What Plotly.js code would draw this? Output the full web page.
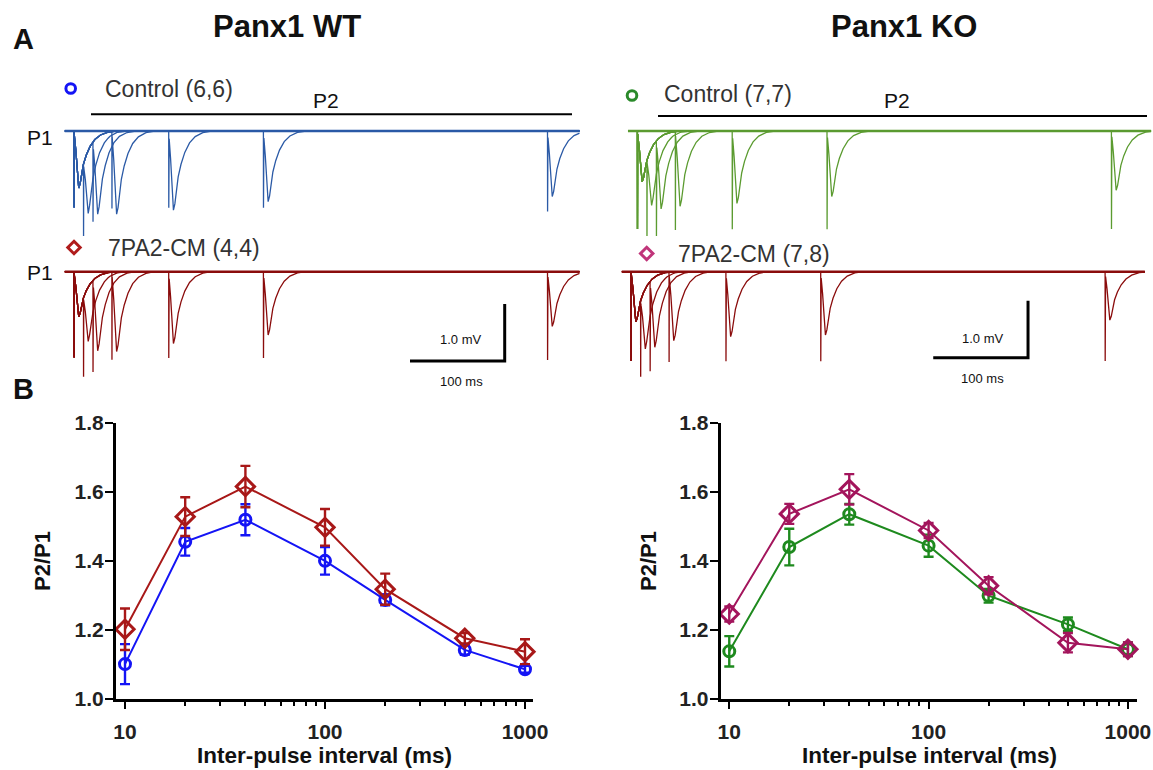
<!DOCTYPE html>
<html><head><meta charset="utf-8">
<script src="https://cdn.plot.ly/plotly-3.0.1.min.js"></script>
<style>html,body{margin:0;padding:0;background:#fff;overflow:hidden}#chart{width:1153px;height:770px}</style>
</head><body><div id="chart"></div>
<script>
// ===== Panel B: paired-pulse ratio data (mean, SEM) =====
const isiMs = [10, 20, 40, 100, 200, 500, 1000];
const wtControl    = [1.101, 1.455, 1.519, 1.400, 1.287, 1.142, 1.086];
const wtControlErr = [0.058, 0.040, 0.045, 0.040, 0.016, 0.014, 0.010];
const wtCM         = [1.202, 1.528, 1.615, 1.497, 1.318, 1.176, 1.137];
const wtCMErr      = [0.060, 0.056, 0.060, 0.053, 0.045, 0.015, 0.036];
const koControl    = [1.138, 1.440, 1.535, 1.444, 1.299, 1.216, 1.144];
const koControlErr = [0.044, 0.053, 0.030, 0.032, 0.020, 0.020, 0.020];
const koCM         = [1.246, 1.536, 1.607, 1.488, 1.328, 1.163, 1.144];
const koCMErr      = [0.022, 0.029, 0.044, 0.022, 0.025, 0.028, 0.020];
const xTickVals = [10, 100, 1000];
const xTickText = ['10', '100', '1000'];
const xMinorVals = [20, 30, 40, 50, 60, 70, 80, 90, 200, 300, 400, 500, 600, 700, 800, 900];
const yTickVals = [1.0, 1.2, 1.4, 1.6, 1.8];
const yTickText = ['1.0', '1.2', '1.4', '1.6', '1.8'];

// ===== Panel A: example fEPSP traces (amplitudes in mV) =====
const sweepIsiMs = [10, 20, 40, 100, 200, 500];
const wtControlP1 = 1.00, wtControlP1Art = 1.32;
const wtControlP2    = [1.10, 1.35, 1.46, 1.39, 1.24, 1.15];
const wtControlP2Art = [1.30, 1.37, 1.32, 1.32, 1.32, 1.39];
const wtCMP1 = 0.79, wtCMP1Art = 1.49;
const wtCMP2    = [0.95, 1.30, 1.40, 1.26, 1.11, 0.96];
const wtCMP2Art = [1.50, 1.58, 1.51, 1.49, 1.49, 1.53];
const koControlP1 = 0.89, koControlP1Art = 1.70;
const koControlP2    = [1.00, 1.27, 1.32, 1.27, 1.15, 1.04];
const koControlP2Art = [1.70, 1.70, 1.70, 1.70, 1.70, 1.70];
const koCMP1 = 0.88, koCMP1Art = 1.55;
const koCMP2    = [1.05, 1.23, 1.21, 1.14, 1.11, 0.85];
const koCMP2Art = [1.55, 1.55, 1.55, 1.55, 1.55, 1.55];
const recWindowWt = [-10, 534];
const recWindowKo = [-10, 542];
// waveform templates (ms after stimulus, fraction of peak)
const fepspT = [0, 0.5, 2, 3.5, 5, 6.5, 8, 10, 13, 17, 22, 28, 36, 45];
const fepspV = [0, -0.1, -0.35, -0.75, -1.0, -0.92, -0.76, -0.58, -0.42, -0.27, -0.15, -0.07, -0.02, 0];
const artT = [0, 0.1, 0.3];
const artV = [0, -1, 0];
const scaleBarMs = 100, scaleBarMv = 1.0;

const W = 1153, H = 770;
const fx = x => x / W;
const fy = y => 1 - y / H;
const FONT = 'Liberation Sans, Arial, sans-serif';

function interp(T, V, t) {
  if (t <= T[0] || t >= T[T.length - 1]) return 0;
  for (let i = 1; i < T.length; i++) {
    if (t <= T[i]) { const f = (t - T[i - 1]) / (T[i] - T[i - 1]); return V[i - 1] + f * (V[i] - V[i - 1]); }
  }
  return 0;
}
function buildRow(p1, p1Art, p2, p2Art, win) {
  const xs = [], ys = [];
  sweepIsiMs.forEach((isi, k) => {
    const ts = new Set([win[0], win[1]]);
    [0, isi].forEach(o => { fepspT.forEach(t => ts.add(t + o)); artT.forEach(t => ts.add(t + o)); });
    const times = [...ts].filter(t => t >= win[0] && t <= win[1]).sort((a, b) => a - b);
    times.forEach(t => {
      xs.push(t);
      ys.push(p1 * interp(fepspT, fepspV, t) + p1Art * interp(artT, artV, t) +
              p2[k] * interp(fepspT, fepspV, t - isi) + p2Art[k] * interp(artT, artV, t - isi));
    });
    xs.push(null); ys.push(null);
  });
  return { xs, ys };
}

const rows = [
  { id: 3, p1Px: 74, base: 131, pxMs: 0.947, win: recWindowWt, color: '#2b5aa6', d: buildRow(wtControlP1, wtControlP1Art, wtControlP2, wtControlP2Art, recWindowWt) },
  { id: 4, p1Px: 74, base: 271.7, pxMs: 0.947, win: recWindowWt, color: '#8a0c0c', d: buildRow(wtCMP1, wtCMP1Art, wtCMP2, wtCMP2Art, recWindowWt) },
  { id: 5, p1Px: 637.4, base: 131, pxMs: 0.948, win: recWindowKo, color: '#5b9b30', d: buildRow(koControlP1, koControlP1Art, koControlP2, koControlP2Art, recWindowKo) },
  { id: 6, p1Px: 631.1, base: 271.7, pxMs: 0.948, win: recWindowKo, color: '#8a0c0c', d: buildRow(koCMP1, koCMP1Art, koCMP2, koCMP2Art, recWindowKo) }
];
const PX_MV = 57;

const data = [];
const layout = {
  width: W, height: H, margin: { l: 0, r: 0, t: 0, b: 0 },
  paper_bgcolor: '#fff', plot_bgcolor: 'rgba(0,0,0,0)', showlegend: false,
  font: { family: FONT, color: '#222' }, annotations: [], shapes: []
};

rows.forEach(r => {
  // baseline drawn a bit heavier (overlaid noisy sweeps), events thin
  data.push({ x: r.win, y: [0, 0], xaxis: 'x' + r.id, yaxis: 'y' + r.id, mode: 'lines',
    line: { color: r.color, width: 2.6 }, hoverinfo: 'skip' });
  data.push({ x: r.d.xs, y: r.d.ys, xaxis: 'x' + r.id, yaxis: 'y' + r.id, mode: 'lines',
    line: { color: r.color, width: 1.3 }, connectgaps: false, hoverinfo: 'skip' });
  layout['xaxis' + r.id] = { domain: [fx(r.p1Px + r.win[0] * r.pxMs), fx(r.p1Px + r.win[1] * r.pxMs)],
    range: r.win, visible: false, anchor: 'y' + r.id, fixedrange: true };
  layout['yaxis' + r.id] = { domain: [fy(r.base + 105), fy(r.base - 15)],
    range: [-105 / PX_MV, 15 / PX_MV], visible: false, anchor: 'x' + r.id, fixedrange: true };
});

// scale bars (drawn in trace coordinates)
function scaleBar(id, cornerMs, cornerMv) {
  layout.shapes.push({ type: 'path', xref: 'x' + id, yref: 'y' + id,
    path: `M ${cornerMs - scaleBarMs},${cornerMv} L ${cornerMs},${cornerMv} L ${cornerMs},${cornerMv + scaleBarMv}`,
    line: { color: '#000', width: 3 } });
}
scaleBar(4, 454.8, -1.567);
scaleBar(6, 418.7, -1.51);

// Panel B
const axCommonX = {
  type: 'log', showline: true, linewidth: 3, linecolor: '#000', ticks: 'outside', ticklen: 7, tickwidth: 2,
  tickcolor: '#000', tickmode: 'array', tickvals: xTickVals, ticktext: xTickText, showgrid: false, zeroline: false,
  tickfont: { family: FONT, size: 21, color: '#222', weight: 'bold' }, ticklabelstandoff: 5,
  minor: { ticks: 'outside', ticklen: 4, tickwidth: 2, tickcolor: '#000', tickmode: 'array', tickvals: xMinorVals, showgrid: false },
  fixedrange: true
};
const axCommonY = {
  range: [1.0, 1.8], showline: true, linewidth: 3, linecolor: '#000', ticks: 'outside', ticklen: 8, tickwidth: 2,
  tickcolor: '#000', tickmode: 'array', tickvals: yTickVals, ticktext: yTickText, showgrid: false, zeroline: false,
  tickfont: { family: FONT, size: 21, color: '#222', weight: 'bold' }, ticklabelstandoff: -3, fixedrange: true
};
layout.xaxis = Object.assign({}, axCommonX, { domain: [fx(116), fx(533)], range: [0.955, 3.04], anchor: 'y' });
layout.yaxis = Object.assign({}, axCommonY, { domain: [fy(699), fy(422.7)], anchor: 'x' });
layout.xaxis2 = Object.assign({}, axCommonX, { domain: [fx(720.7), fx(1136.7)], range: [0.957, 3.044], anchor: 'y2' });
layout.yaxis2 = Object.assign({}, axCommonY, { domain: [fy(699), fy(422.7)], anchor: 'x2' });

function series(y, err, color, symbol, size, xa, ya) {
  data.push({ x: isiMs, y: y, xaxis: xa, yaxis: ya, mode: 'lines+markers', cliponaxis: false,
    line: { color: color, width: 2 },
    marker: { symbol: symbol, size: size, color: color, line: { color: color, width: 3 } },
    error_y: { type: 'data', array: err, visible: true, color: color, thickness: 2.4, width: 5 },
    hoverinfo: 'x+y' });
}
series(wtControl, wtControlErr, '#1414f5', 'circle-open', 11, 'x', 'y');
series(wtCM, wtCMErr, '#a81818', 'diamond-open', 14, 'x', 'y');
series(koControl, koControlErr, '#1e8a1e', 'circle-open', 11, 'x2', 'y2');
series(koCM, koCMErr, '#a3155c', 'diamond-open', 14, 'x2', 'y2');

function ann(text, x, y, size, extra) {
  layout.annotations.push(Object.assign({ text: text, x: fx(x), y: fy(y), xref: 'paper', yref: 'paper',
    showarrow: false, xanchor: 'center', yanchor: 'middle', font: { family: FONT, size: size, color: '#111' } }, extra || {}));
}
ann('<b>Panx1 WT</b>', 287, 26, 31);
ann('<b>Panx1 KO</b>', 904, 26, 31);
ann('<b>A</b>', 23, 39, 29);
ann('<b>B</b>', 23, 389, 29);
ann('P1', 40, 137, 21);
ann('P1', 40, 273, 21);
const legFont = { family: FONT, size: 23, color: '#333' };
ann('Control (6,6)', 103, 89, 23, { xanchor: 'left', font: legFont });
ann('7PA2-CM (4,4)', 106, 248, 23, { xanchor: 'left', font: legFont });
ann('Control (7,7)', 662, 94, 23, { xanchor: 'left', font: legFont });
ann('7PA2-CM (7,8)', 676, 254, 23, { xanchor: 'left', font: legFont });
ann('P2', 326, 100, 21);
ann('P2', 897, 101, 21);
ann('1.0 mV', 461, 340, 13);
ann('100 ms', 461, 381, 13);
ann('1.0 mV', 983, 338, 13);
ann('100 ms', 983, 378, 13);
ann('<b>P2/P1</b>', 42, 561, 22, { textangle: -90 });
ann('<b>P2/P1</b>', 648, 561, 22, { textangle: -90 });
ann('<b>Inter-pulse interval (ms)</b>', 324.5, 755, 22.5);
ann('<b>Inter-pulse interval (ms)</b>', 929, 755, 22.5);

// P2 bars
layout.shapes.push({ type: 'line', xref: 'paper', yref: 'paper', x0: fx(91), x1: fx(572), y0: fy(114.3), y1: fy(114.3), line: { color: '#000', width: 2 } });
layout.shapes.push({ type: 'line', xref: 'paper', yref: 'paper', x0: fx(658), x1: fx(1147), y0: fy(116), y1: fy(116), line: { color: '#000', width: 2 } });
// legend symbols
function circ(cx, cy, color) {
  layout.shapes.push({ type: 'circle', xref: 'paper', yref: 'paper', x0: fx(cx - 4.8), x1: fx(cx + 4.8), y0: fy(cy + 4.8), y1: fy(cy - 4.8), line: { color: color, width: 3 } });
}
function diam(cx, cy, color) {
  const r = 6.2;
  layout.shapes.push({ type: 'path', xref: 'paper', yref: 'paper',
    path: `M ${fx(cx)},${fy(cy - r)} L ${fx(cx + r)},${fy(cy)} L ${fx(cx)},${fy(cy + r)} L ${fx(cx - r)},${fy(cy)} Z`,
    line: { color: color, width: 3 } });
}
circ(70.7, 88.5, '#1414f5');
circ(632, 95.5, '#2a8a2a');
diam(74, 247.5, '#b01c1c');
diam(646.7, 253.5, '#c0357a');

Plotly.newPlot('chart', data, layout, { staticPlot: true, displayModeBar: false });
</script>
</body></html>
